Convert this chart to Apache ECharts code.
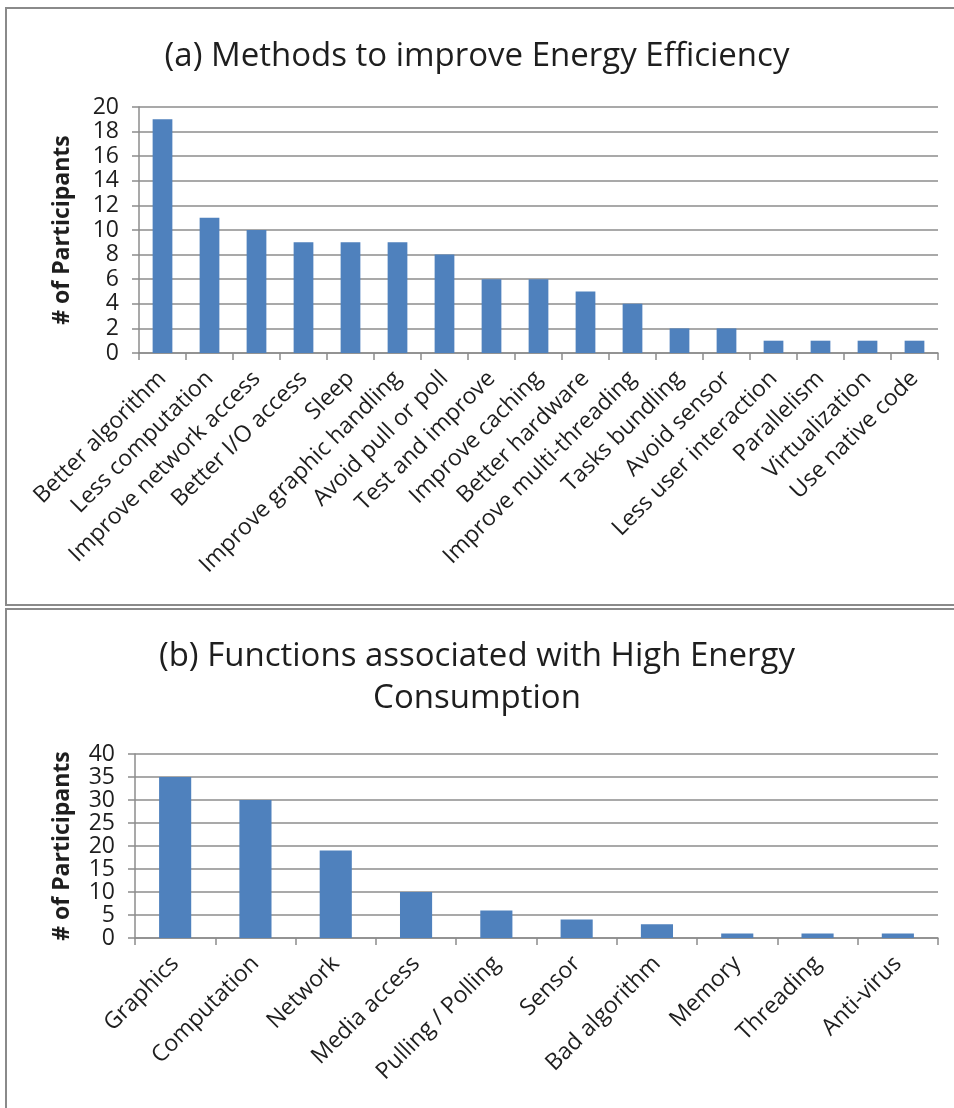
<!DOCTYPE html>
<html>
<head>
<meta charset="utf-8">
<title>Energy efficiency survey</title>
<script src="https://cdn.jsdelivr.net/npm/echarts@6/dist/echarts.min.js"></script>
<style>
    html, body
    {
        margin: 0;
        padding: 0;
        background: #ffffff;
    }
    #main
    {
        width: 954px;
        height: 1108px;
    }
</style>
</head>
<body>
<div id="main"></div>
<script>
var methodNames = ["Better algorithm", "Less computation", "Improve network access", "Better I/O access",
    "Sleep", "Improve graphic handling", "Avoid pull or poll", "Test and improve", "Improve caching",
    "Better hardware", "Improve multi-threading", "Tasks bundling", "Avoid sensor",
    "Less user interaction", "Parallelism", "Virtualization", "Use native code"];
var methodCounts = [19, 11, 10, 9, 9, 9, 8, 6, 6, 5, 4, 2, 2, 1, 1, 1, 1];

var functionNames = ["Graphics", "Computation", "Network", "Media access", "Pulling / Polling",
    "Sensor", "Bad algorithm", "Memory", "Threading", "Anti-virus"];
var functionCounts = [35, 30, 19, 10, 6, 4, 3, 1, 1, 1];

var titleA = "(a) Methods to improve Energy Efficiency";
var titleB = "(b) Functions associated with High Energy\nConsumption";
var yName = "# of Participants";

var FONT = "Open Sans";
var TEXT = "#1e1e1e";
var GRAY = "#8c8c8c";
var BAR = "#4f81bd";

function valueAxis(gridIdx, max, step, gap)
{
    return {
        type: "value",
        gridIndex: gridIdx,
        min: 0,
        max: max,
        interval: step,
        name: yName,
        nameLocation: "middle",
        nameGap: gap,
        nameTextStyle: {fontFamily: FONT, fontSize: 23, fontWeight: "bold", color: TEXT},
        axisLine: {show: true, lineStyle: {color: GRAY, width: 1.5}},
        axisTick: {show: true, length: 7, lineStyle: {color: GRAY, width: 1.5}},
        axisLabel: {fontFamily: FONT, fontSize: 23, color: TEXT, margin: 20},
        splitLine: {lineStyle: {color: GRAY, width: 1.5}}
    };
}

function categoryAxis(gridIdx, names)
{
    return {
        type: "category",
        gridIndex: gridIdx,
        data: names,
        axisLine: {lineStyle: {color: GRAY, width: 1.5}},
        axisTick: {show: true, length: 7, lineStyle: {color: GRAY, width: 1.5}},
        axisLabel: {fontFamily: FONT, fontSize: 23, color: TEXT, rotate: 45, interval: 0, margin: 22}
    };
}

var myChart = echarts.init(document.getElementById("main"));

var option = {
    animation: false,
    backgroundColor: "#ffffff",
    title: [
        {
            text: titleA,
            left: "center",
            top: 35,
            textStyle: {fontFamily: FONT, fontSize: 33, fontWeight: "normal", color: TEXT}
        },
        {
            text: titleB,
            left: "center",
            top: 631,
            textStyle: {fontFamily: FONT, fontSize: 33, fontWeight: "normal", color: TEXT, lineHeight: 42}
        }
    ],
    graphic: [
        // panel frames, the right and bottom edges run off the picture
        {
            type: "rect",
            shape: {x: 6, y: 8, width: 960, height: 597},
            style: {fill: "none", stroke: "#8a8a8a", lineWidth: 2}
        },
        {
            type: "rect",
            shape: {x: 6, y: 609, width: 960, height: 520},
            style: {fill: "none", stroke: "#8a8a8a", lineWidth: 2}
        }
    ],
    grid: [
        {left: 139, right: 16, top: 107, height: 246},
        {left: 135, right: 16, top: 754, height: 184}
    ],
    xAxis: [
        categoryAxis(0, methodNames),
        categoryAxis(1, functionNames)
    ],
    yAxis: [
        valueAxis(0, 20, 2, 65),
        valueAxis(1, 40, 5, 61)
    ],
    series: [
        {
            type: "bar",
            xAxisIndex: 0,
            yAxisIndex: 0,
            data: methodCounts,
            barWidth: "42%",
            itemStyle: {color: BAR}
        },
        {
            type: "bar",
            xAxisIndex: 1,
            yAxisIndex: 1,
            data: functionCounts,
            barWidth: "40%",
            itemStyle: {color: BAR}
        }
    ]
};
myChart.setOption(option);
</script>
</body>
</html>
